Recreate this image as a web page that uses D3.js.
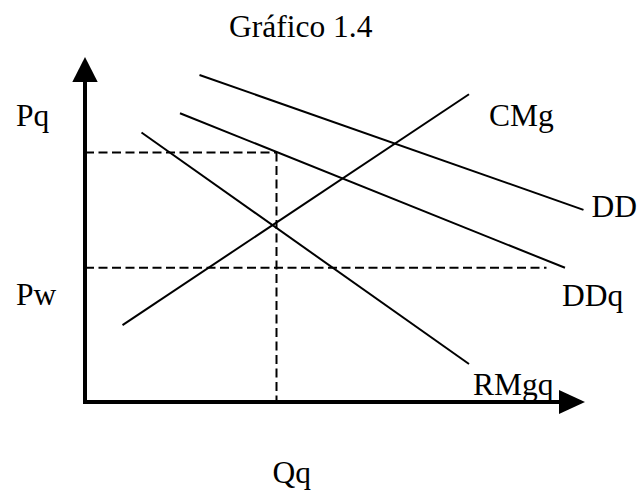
<!DOCTYPE html>
<html>
<head>
<meta charset="utf-8">
<script src="https://cdn.jsdelivr.net/npm/d3@7"></script>
<style>
  html, body { margin: 0; padding: 0; background: #fff; }
  svg { display: block; }
  text { font-family: "Liberation Serif", "Times New Roman", serif; font-size: 31.5px; fill: #000; }
</style>
</head>
<body>
<script>
// ---- Data (arbitrary units, origin at axis corner) ----
const title = "Gráfico 1.4";
const curveNames = ["DD", "DDq", "CMg", "RMgq"];
const curveX = [[22.9, 99.7], [19.0, 96.0], [7.5, 76.8], [11.3, 76.8]];
const curveY = [[94.8, 55.7], [83.7, 38.9], [22.3, 89.2], [78.1, 11.0]];
const priceLabels = ["Pq", "Pw"];
const priceValues = [72.3, 38.9];
const priceLineEnds = [38.3, 92.3];
const quantityLabel = "Qq";
const quantityValue = 38.3;

// ---- Layout ----
const W = 639, H = 493;
const svg = d3.select("body").append("svg").attr("width", W).attr("height", H);
const x = d3.scaleLinear().domain([0, 100]).range([85, 585]);
const y = d3.scaleLinear().domain([0, 100]).range([402, 57]);

svg.append("text").attr("x", 229).attr("y", 37).text(title);

// dashed guide lines
const dash = "9,4.5";
priceValues.forEach((p, i) => {
  svg.append("line")
    .attr("x1", x(0)).attr("x2", x(priceLineEnds[i]))
    .attr("y1", y(p)).attr("y2", y(p))
    .attr("stroke", "#000").attr("stroke-width", 2).attr("stroke-dasharray", dash);
});
svg.append("line")
  .attr("x1", x(quantityValue)).attr("x2", x(quantityValue))
  .attr("y1", y(priceValues[0])).attr("y2", y(0))
  .attr("stroke", "#000").attr("stroke-width", 2).attr("stroke-dasharray", dash);

// curves
const line = d3.line().x(d => x(d[0])).y(d => y(d[1]));
curveNames.forEach((n, i) => {
  const pts = curveX[i].map((v, j) => [v, curveY[i][j]]);
  svg.append("path").attr("d", line(pts))
    .attr("fill", "none").attr("stroke", "#000").attr("stroke-width", 2);
});

// axes
const axW = 4;
svg.append("line")
  .attr("x1", x(0)).attr("x2", x(0))
  .attr("y1", y(0) + axW / 2).attr("y2", y(100) + 24)
  .attr("stroke", "#000").attr("stroke-width", axW);
svg.append("line")
  .attr("x1", x(0) - axW / 2).attr("x2", x(100) - 26)
  .attr("y1", y(0)).attr("y2", y(0))
  .attr("stroke", "#000").attr("stroke-width", axW);
// arrowheads
svg.append("path")
  .attr("d", `M${x(0)},${y(100)} L${x(0) - 12.7},${y(100) + 25} L${x(0) + 12.7},${y(100) + 25} Z`)
  .attr("fill", "#000");
svg.append("path")
  .attr("d", `M${x(100)},${y(0)} L${x(100) - 26},${y(0) - 12} L${x(100) - 26},${y(0) + 12} Z`)
  .attr("fill", "#000");

// curve labels (offset from line ends)
const labelOffsets = { "DD": [8, 7], "DDq": [-3, 38], "CMg": [20, 32], "RMgq": [4, 31] };
curveNames.forEach((n, i) => {
  const ex = x(curveX[i][1]), ey = y(curveY[i][1]);
  svg.append("text").attr("x", ex + labelOffsets[n][0]).attr("y", ey + labelOffsets[n][1]).text(n);
});

// price labels
const priceLabelDy = [-27, 37];
priceLabels.forEach((l, i) => {
  svg.append("text").attr("x", 16).attr("y", y(priceValues[i]) + priceLabelDy[i]).text(l);
});
// quantity label
svg.append("text").attr("x", x(quantityValue) - 4).attr("y", 483).text(quantityLabel);
</script>
</body>
</html>
